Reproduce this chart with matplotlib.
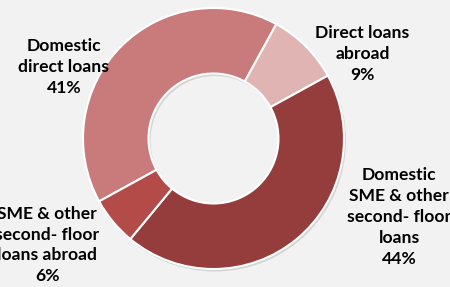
import matplotlib
matplotlib.use("Agg")
import matplotlib.pyplot as plt
from matplotlib.patches import Wedge

categories = ["Domestic\ndirect loans", "Direct loans\nabroad",
              "Domestic\nSME & other\nsecond- floor\nloans",
              "SME & other\nsecond- floor\nloans abroad"]
values = [41, 9, 44, 6]
colors = ["#C97B7B", "#DFB4B3", "#953C3C", "#B34B49"]

W, H = 450, 287
fig = plt.figure(figsize=(4.5, 2.87), dpi=100)
fig.patch.set_facecolor("#F2F2F2")
ax = fig.add_axes([0, 0, 1, 1])
ax.set_xlim(0, W)
ax.set_ylim(0, H)
ax.set_aspect("equal")
ax.axis("off")

cx, cy = 213.5, H - 138.5
R = 130.5
width = 65.5

# subtle shadow
ax.add_patch(Wedge((cx + 1.5, cy - 2), R + 0.5, 0, 360, width=width + 1,
                   facecolor="#000000", alpha=0.12, edgecolor="none", zorder=0))

wedges, _ = ax.pie(values, colors=colors, startangle=208.8, counterclock=False,
                   center=(cx, cy), radius=R, frame=True,
                   wedgeprops=dict(width=width, edgecolor="white", linewidth=1.5))
ax.set_xlim(0, W)
ax.set_ylim(0, H)
ax.axis("off")

fs = 12.6
font = dict(family=["Lato", "DejaVu Sans"], fontsize=fs, fontweight="bold",
            color="black", ha="center", va="center", linespacing=1.38)
label_pos = [(64, 67), (362.5, 54), (399, 217), (47, 245)]
for cat, v, (x, y) in zip(categories, values, label_pos):
    ax.text(x, H - y, f"{cat}\n{v}%", **font)

fig.savefig("out.png", dpi=100, facecolor=fig.get_facecolor())
